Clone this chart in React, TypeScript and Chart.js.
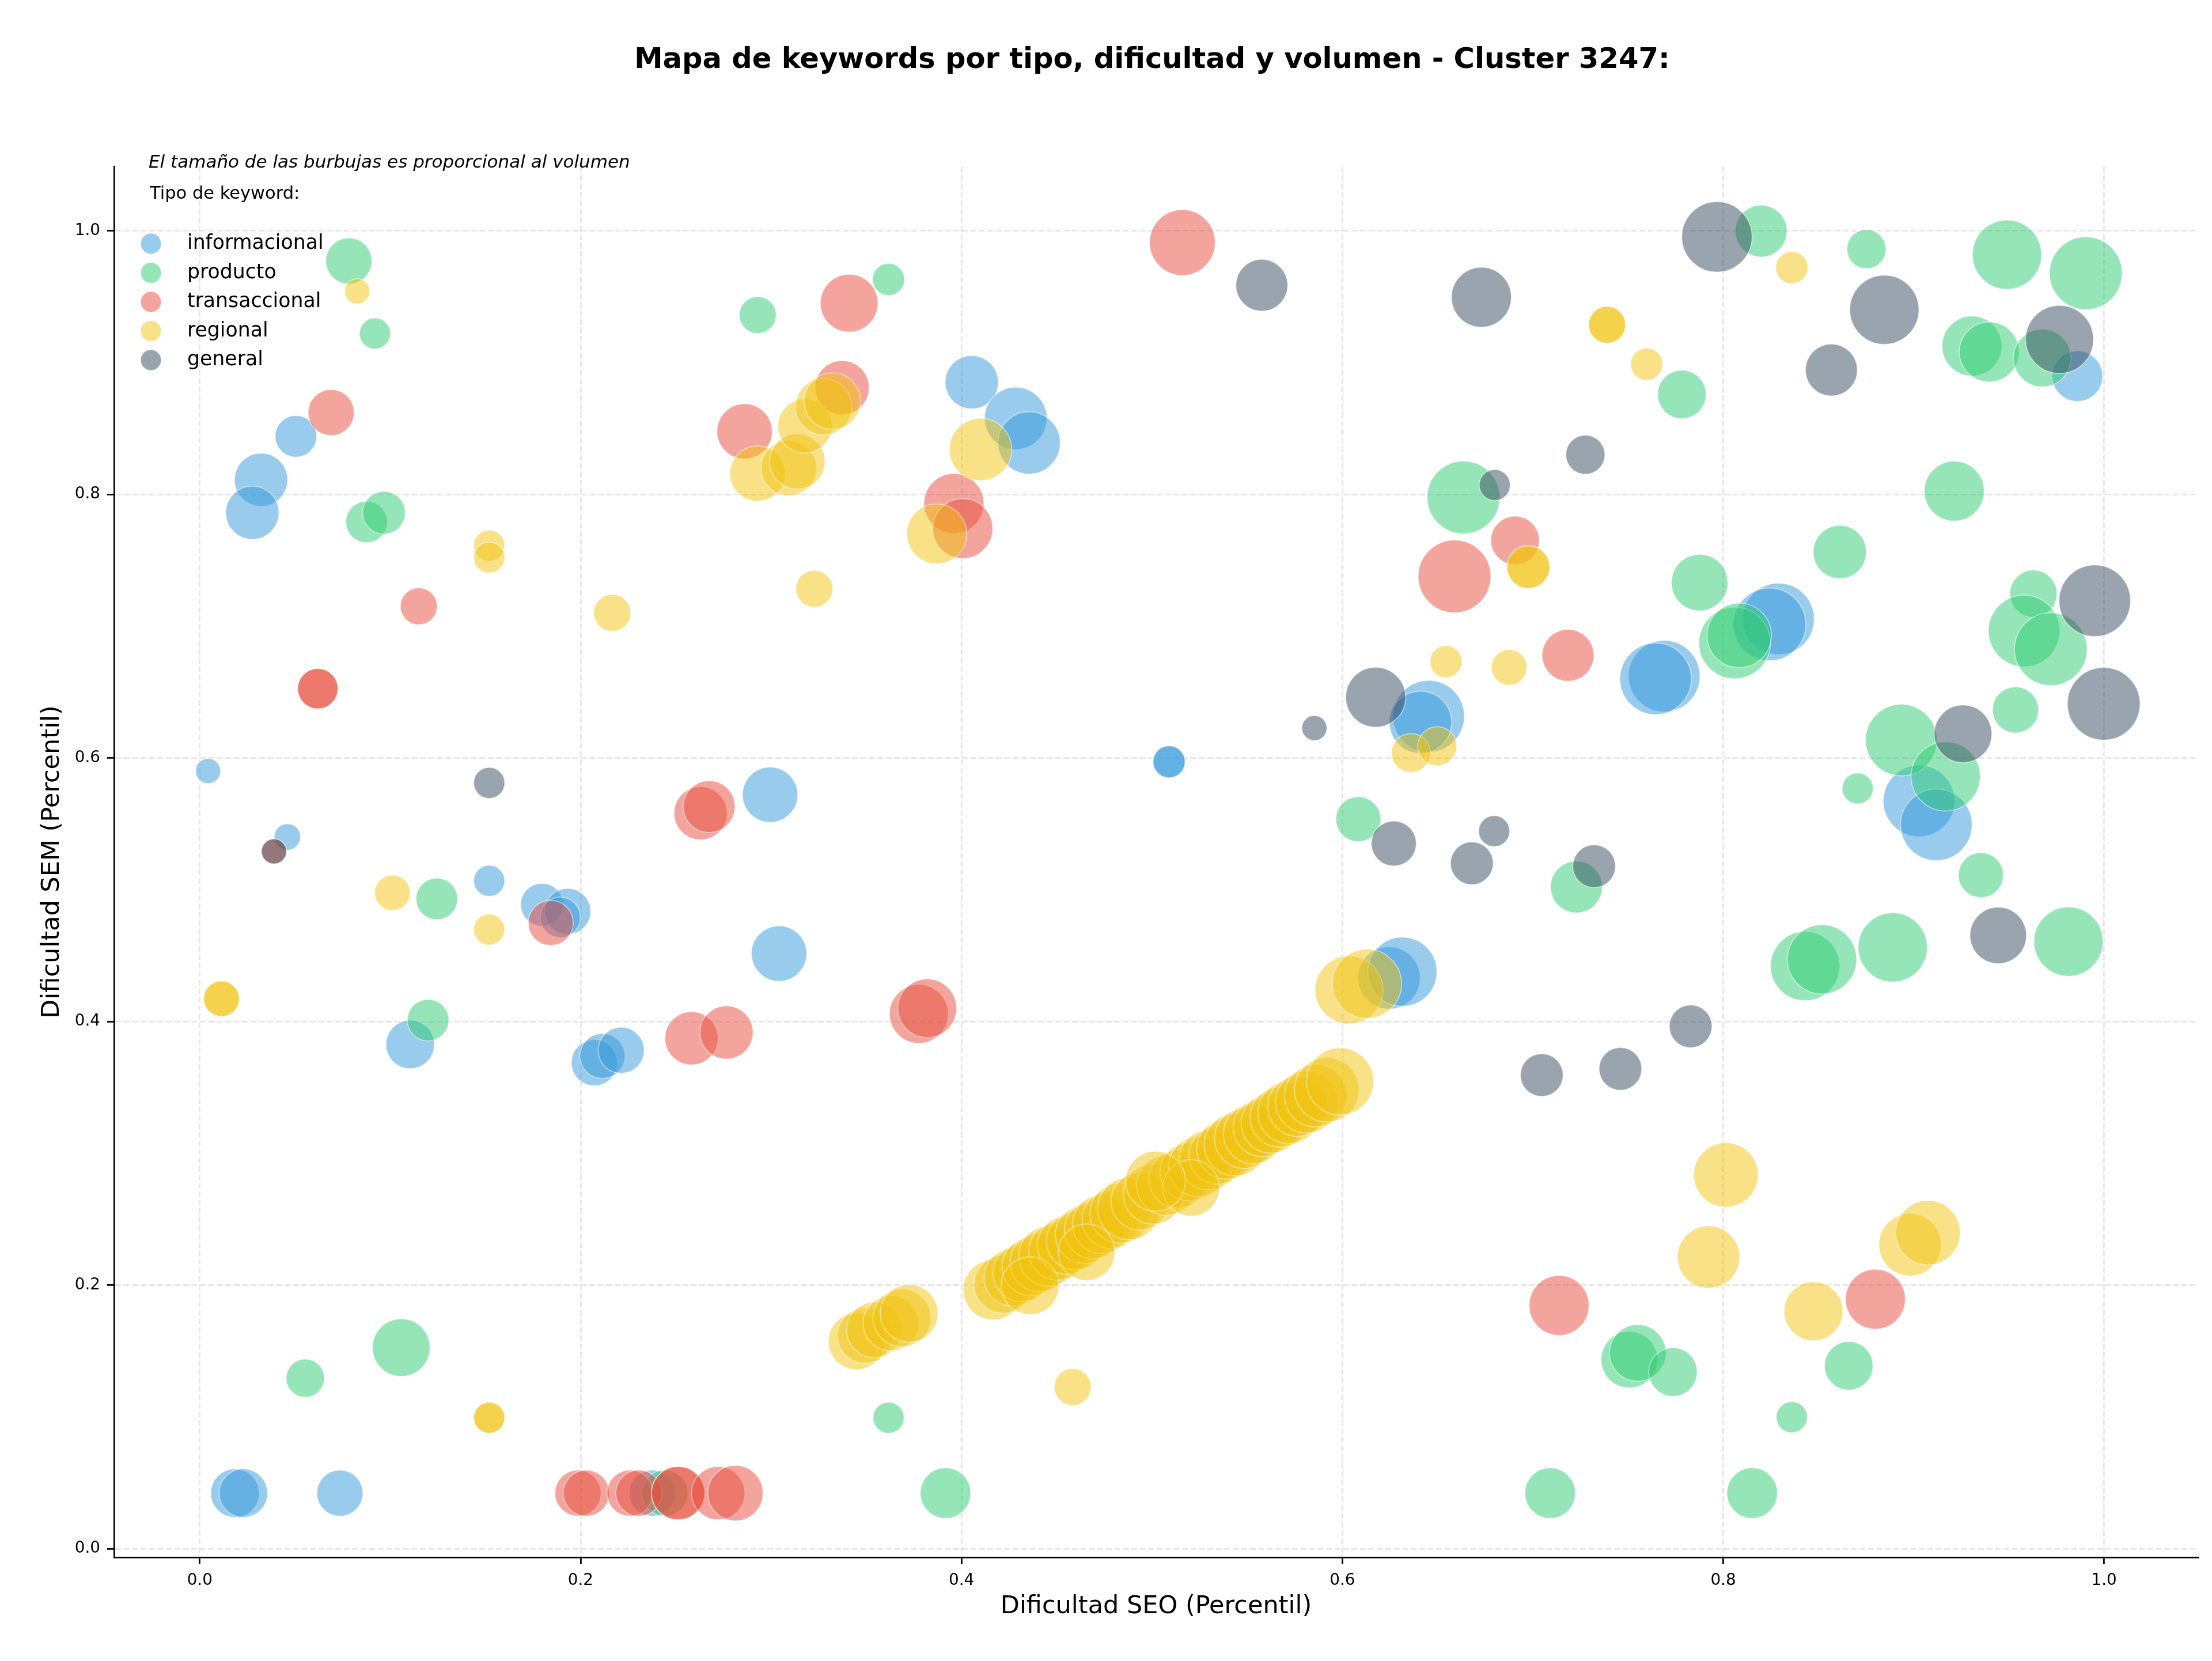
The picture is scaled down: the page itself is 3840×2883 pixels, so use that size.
import React, { useEffect, useRef } from "react";
import { Chart, registerables } from "chart.js";

Chart.register(...registerables);

const W = 3840;
const H = 2883;
const FONT = '"DejaVu Sans", "Liberation Sans", sans-serif';

const TITLE = "Mapa de keywords por tipo, dificultad y volumen - Cluster 3247:";
const NOTE = "El tamaño de las burbujas es proporcional al volumen";
const LEGEND_TITLE = "Tipo de keyword:";
const X_LABEL = "Dificultad SEO (Percentil)";
const Y_LABEL = "Dificultad SEM (Percentil)";

const TYPES = ["informacional", "producto", "transaccional", "regional", "general"];
const TYPE_COLORS = ["#3498db", "#2ecc71", "#e74c3c", "#f1c40f", "#34495e"];

const X_TICKS = [0, 0.2, 0.4, 0.6, 0.8, 1.0];
const Y_TICKS = [0, 0.2, 0.4, 0.6, 0.8, 1.0];

// informacional
const infoSeo = [0.0505, 0.0322, 0.0276, 0.0044, 0.046, 0.2995, 0.4054, 0.4285, 0.4355, 0.6453, 0.641, 0.509, 0.509, 0.986, 0.769, 0.7645, 0.829, 0.8243, 0.9028, 0.9119, 0.152, 0.1797, 0.1932, 0.1893, 0.3042, 0.1105, 0.2072, 0.2114, 0.2213, 0.0185, 0.0229, 0.0736, 0.2376, 0.6245, 0.6315];
const infoSem = [0.844, 0.811, 0.786, 0.59, 0.54, 0.572, 0.885, 0.8576, 0.839, 0.6316, 0.627, 0.597, 0.597, 0.8896, 0.662, 0.66, 0.7054, 0.7013, 0.5673, 0.5492, 0.5067, 0.4886, 0.4835, 0.479, 0.4515, 0.3825, 0.3687, 0.3737, 0.3781, 0.0421, 0.0421, 0.0421, 0.0421, 0.433, 0.4377];
const infoVol = [5200, 8500, 8500, 1900, 2100, 9200, 8500, 11700, 11700, 15400, 11700, 3100, 3100, 7700, 15400, 15400, 15400, 15900, 15400, 15400, 2900, 5500, 6400, 4900, 9200, 7100, 6400, 6100, 6400, 7100, 7100, 6400, 6400, 11700, 14400];

// producto
const prodSeo = [0.0783, 0.092, 0.293, 0.0876, 0.0967, 0.3617, 0.6636, 0.6084, 0.8199, 0.8752, 0.949, 0.9904, 0.7783, 0.9306, 0.9397, 0.9675, 0.9213, 0.8612, 0.7876, 0.806, 0.8084, 0.9629, 0.958, 0.972, 0.9535, 0.8935, 0.9168, 0.8706, 0.1245, 0.1199, 0.1058, 0.0554, 0.2442, 0.3617, 0.3916, 0.7229, 0.9353, 0.843, 0.8519, 0.889, 0.9813, 0.7507, 0.7551, 0.7736, 0.8659, 0.836, 0.7091, 0.8152];
const prodSem = [0.977, 0.922, 0.936, 0.779, 0.786, 0.963, 0.7976, 0.5535, 0.9997, 0.986, 0.9818, 0.9677, 0.8758, 0.9125, 0.908, 0.9034, 0.8024, 0.7562, 0.733, 0.6872, 0.6929, 0.7246, 0.6963, 0.6825, 0.6364, 0.6135, 0.5859, 0.5768, 0.493, 0.401, 0.1525, 0.1293, 0.0421, 0.0993, 0.0421, 0.502, 0.511, 0.442, 0.4471, 0.4562, 0.4606, 0.1434, 0.1485, 0.134, 0.1387, 0.0997, 0.0421, 0.0421];
const prodVol = [6400, 2900, 4100, 5200, 5500, 3100, 15900, 6100, 8100, 4600, 14400, 15900, 7100, 10800, 10800, 10000, 10800, 8500, 9600, 15400, 12500, 6700, 15400, 15900, 6400, 15400, 14400, 2900, 5200, 5200, 10000, 4400, 6400, 2900, 7700, 8100, 6100, 14400, 14400, 14400, 14400, 9600, 9600, 7100, 7100, 2900, 7700, 7700];

// transaccional
const tranSeo = [0.069, 0.115, 0.062, 0.062, 0.039, 0.263, 0.2675, 0.2861, 0.3373, 0.341, 0.516, 0.396, 0.4007, 0.6589, 0.6907, 0.7185, 0.1843, 0.2582, 0.2766, 0.1986, 0.203, 0.2259, 0.2306, 0.2512, 0.2512, 0.2722, 0.2813, 0.3776, 0.382, 0.7138, 0.8799];
const tranSem = [0.862, 0.715, 0.6525, 0.6525, 0.529, 0.558, 0.563, 0.8477, 0.8809, 0.945, 0.991, 0.793, 0.774, 0.7377, 0.765, 0.6778, 0.4747, 0.3872, 0.3916, 0.0421, 0.0421, 0.0421, 0.0421, 0.0421, 0.0421, 0.0421, 0.0421, 0.4057, 0.41, 0.1845, 0.1892];
const tranVol = [6400, 4100, 4900, 4900, 1900, 8500, 8100, 9200, 8800, 10000, 13000, 10800, 10800, 15900, 7100, 8100, 6100, 8500, 8500, 6400, 6400, 6400, 6400, 8500, 8500, 8500, 9200, 10400, 10400, 10800, 10800];

// regional
const regSeo = [
  0.0827, 0.152, 0.152, 0.2166, 0.2929, 0.3093, 0.3138, 0.3178, 0.3276, 0.3322, 0.41, 0.387, 0.3227,
  0.6544, 0.636, 0.6498, 0.836, 0.739, 0.739, 0.7598, 0.6977, 0.6977, 0.6876, 0.1012, 0.152, 0.0114,
  0.0114, 0.152, 0.152, 0.6035, 0.6129, 0.4584, 0.8014, 0.7923, 0.8981, 0.9075, 0.8474,
  0.3449, 0.3493, 0.3542, 0.3629, 0.3687, 0.3725,
  0.4166, 0.4217, 0.427, 0.4318, 0.4364, 0.441, 0.4458, 0.4505, 0.455, 0.4598, 0.4645, 0.4692, 0.4738,
  0.4785, 0.4832, 0.4879, 0.4937, 0.5007, 0.5077, 0.5136, 0.5194, 0.5245, 0.5299, 0.5346, 0.5393, 0.5439,
  0.5486, 0.5533, 0.5579, 0.5626, 0.5673, 0.572, 0.5766, 0.5813, 0.586, 0.5918, 0.5988,
  0.436, 0.4657, 0.5206, 0.5019,
];
const regSem = [
  0.954, 0.761, 0.752, 0.71, 0.8157, 0.8198, 0.8249, 0.8518, 0.8664, 0.8707, 0.834, 0.77, 0.7283,
  0.673, 0.6037, 0.6088, 0.972, 0.9286, 0.9286, 0.8987, 0.7448, 0.7448, 0.6687, 0.4976, 0.4697, 0.4172,
  0.4172, 0.0993, 0.0993, 0.4239, 0.4286, 0.1226, 0.2835, 0.2212, 0.2306, 0.2397, 0.1801,
  0.1572, 0.1616, 0.166, 0.171, 0.1751, 0.1785,
  0.1963, 0.2005, 0.2058, 0.2092, 0.2138, 0.2172, 0.2219, 0.2255, 0.2301, 0.2335, 0.2382, 0.2418, 0.2463,
  0.2497, 0.2545, 0.2579, 0.2635, 0.269, 0.2757, 0.2802, 0.2858, 0.2897, 0.2949, 0.2984, 0.3031, 0.3065,
  0.3112, 0.3147, 0.3193, 0.3228, 0.3274, 0.3309, 0.3355, 0.339, 0.3436, 0.3481, 0.3545,
  0.1995, 0.2249, 0.2737, 0.2788,
];
const regVol = [
  1900, 2900, 2900, 4100, 9200, 9200, 9200, 8800, 9600, 9600, 11700, 10800, 4100,
  3100, 4600, 4600, 3100, 4100, 4100, 3100, 5500, 5500, 3800, 3800, 2900, 3800,
  3800, 2900, 2900, 13900, 14400, 4100, 12500, 11700, 11700, 12500, 10400,
  9600, 9200, 9200, 9200, 10000, 10000,
  10800, 10000, 10000, 10000, 10000, 10400, 10800, 10000, 10000, 10000, 10000, 10000, 10400,
  10000, 10800, 11700, 10000, 10800, 10800, 10000, 10000, 10800, 10800, 10000, 10800, 11700,
  10800, 10800, 10000, 10800, 10800, 11700, 10800, 11700, 11700, 12500, 13500,
  10000, 9600, 9600, 10800,
];

// general
const genSeo = [0.152, 0.039, 0.5577, 0.673, 0.68, 0.6175, 0.5853, 0.627, 0.6797, 0.668, 0.7967, 0.8846, 0.8568, 0.9766, 0.7276, 0.9951, 0.9998, 0.9259, 0.7322, 0.9444, 0.7829, 0.7047, 0.746];
const genSem = [0.581, 0.529, 0.9586, 0.9495, 0.807, 0.646, 0.6226, 0.535, 0.5444, 0.52, 0.9953, 0.94, 0.8943, 0.9175, 0.83, 0.7192, 0.641, 0.6182, 0.5178, 0.4653, 0.3963, 0.3593, 0.364];
const genVol = [2900, 1900, 8100, 10800, 2900, 10800, 1900, 6100, 2900, 5500, 14900, 14400, 8100, 13900, 4600, 15400, 15900, 10000, 5500, 9600, 5500, 5500, 5500];

function withAlpha(hex: string, a: number): string {
  const n = parseInt(hex.slice(1), 16);
  return `rgba(${(n >> 16) & 255}, ${(n >> 8) & 255}, ${n & 255}, ${a})`;
}

// bubble radius grows with the square root of the search volume
const bubbleRadius = (vol: number) => Math.sqrt(vol) / 2;

const toPoints = (seo: number[], sem: number[], vol: number[]) =>
  seo.map((x, i) => ({ x, y: sem[i], r: bubbleRadius(vol[i]) }));

// title, note and legend drawn on top of the plot
const overlayPlugin = {
  id: "overlay",
  afterDraw(chart: any) {
    const ctx: CanvasRenderingContext2D = chart.ctx;
    ctx.save();
    ctx.fillStyle = "#000";
    ctx.textBaseline = "alphabetic";

    ctx.textAlign = "center";
    ctx.font = `bold 49.6px ${FONT}`;
    ctx.fillText(TITLE, 2000, 118);

    ctx.textAlign = "left";
    ctx.font = `italic 31px ${FONT}`;
    ctx.fillText(NOTE, 258, 291);

    ctx.font = `30.5px ${FONT}`;
    ctx.fillText(LEGEND_TITLE, 260, 345);

    ctx.font = `34.7px ${FONT}`;
    TYPES.forEach((label, i) => {
      const cy = 423 + i * 50.5;
      ctx.beginPath();
      ctx.arc(262, cy, 18, 0, Math.PI * 2);
      ctx.fillStyle = withAlpha(TYPE_COLORS[i], 0.5);
      ctx.fill();
      ctx.lineWidth = 1.7;
      ctx.strokeStyle = "rgba(255,255,255,0.5)";
      ctx.stroke();
      ctx.fillStyle = "#000";
      ctx.fillText(label, 325, cy + 9);
    });
    ctx.restore();
  },
};

export default function App() {
  const ref = useRef<HTMLCanvasElement>(null);

  useEffect(() => {
    document.body.style.margin = "0";
    const canvas = ref.current;
    if (!canvas) return;

    const series = [
      toPoints(infoSeo, infoSem, infoVol),
      toPoints(prodSeo, prodSem, prodVol),
      toPoints(tranSeo, tranSem, tranVol),
      toPoints(regSeo, regSem, regVol),
      toPoints(genSeo, genSem, genVol),
    ];

    const gridColor = "rgba(176,176,176,0.32)";
    const tickFont = { family: FONT, size: 27.8 };
    const titleFont = { family: FONT, size: 43 };

    const chart = new Chart(canvas, {
      type: "bubble",
      data: {
        datasets: TYPES.map((label, i) => ({
          label,
          data: series[i],
          backgroundColor: withAlpha(TYPE_COLORS[i], 0.5),
          borderColor: "rgba(255,255,255,0.5)",
          borderWidth: 1.7,
          order: TYPES.length - i,
        })),
      },
      options: {
        responsive: false,
        animation: false,
        devicePixelRatio: 1,
        events: [],
        layout: { autoPadding: false, padding: { top: 289, right: 24, bottom: 0, left: 0 } },
        plugins: {
          legend: { display: false },
          title: { display: false },
          tooltip: { enabled: false },
        },
        scales: {
          x: {
            type: "linear",
            min: -0.045,
            max: 1.0494,
            afterFit: (s: any) => {
              s.height = 180;
            },
            afterBuildTicks: (s: any) => {
              s.ticks = X_TICKS.map((value) => ({ value }));
            },
            ticks: {
              callback: (v: any) => Number(v).toFixed(1),
              font: tickFont,
              color: "#000",
              padding: 12,
              maxRotation: 0,
              autoSkip: false,
            },
            grid: {
              color: gridColor,
              lineWidth: 2.78,
              tickColor: "#000",
              tickLength: 12,
              tickWidth: 2.78,
            },
            border: { display: true, color: "#000", width: 2.78, dash: [10.3, 4.4] },
            title: {
              display: true,
              text: X_LABEL,
              font: titleFont,
              color: "#000",
              padding: { top: 0, bottom: 68 },
            },
          },
          y: {
            type: "linear",
            min: -0.0066,
            max: 1.0487,
            afterFit: (s: any) => {
              s.width = 198;
            },
            afterBuildTicks: (s: any) => {
              s.ticks = Y_TICKS.map((value) => ({ value }));
            },
            ticks: {
              callback: (v: any) => Number(v).toFixed(1),
              font: tickFont,
              color: "#000",
              padding: 12,
              autoSkip: false,
            },
            grid: {
              color: gridColor,
              lineWidth: 2.78,
              tickColor: "#000",
              tickLength: 12,
              tickWidth: 2.78,
            },
            border: { display: true, color: "#000", width: 2.78, dash: [10.3, 4.4] },
            title: {
              display: true,
              text: Y_LABEL,
              font: titleFont,
              color: "#000",
              padding: { top: 65, bottom: 0 },
            },
          },
        },
      },
      plugins: [overlayPlugin],
    } as any);

    return () => chart.destroy();
  }, []);

  return (
    <div style={{ position: "absolute", left: 0, top: 0, width: W, height: H, background: "#fff" }}>
      <canvas ref={ref} width={W} height={H} style={{ display: "block", width: W, height: H }} />
    </div>
  );
}
